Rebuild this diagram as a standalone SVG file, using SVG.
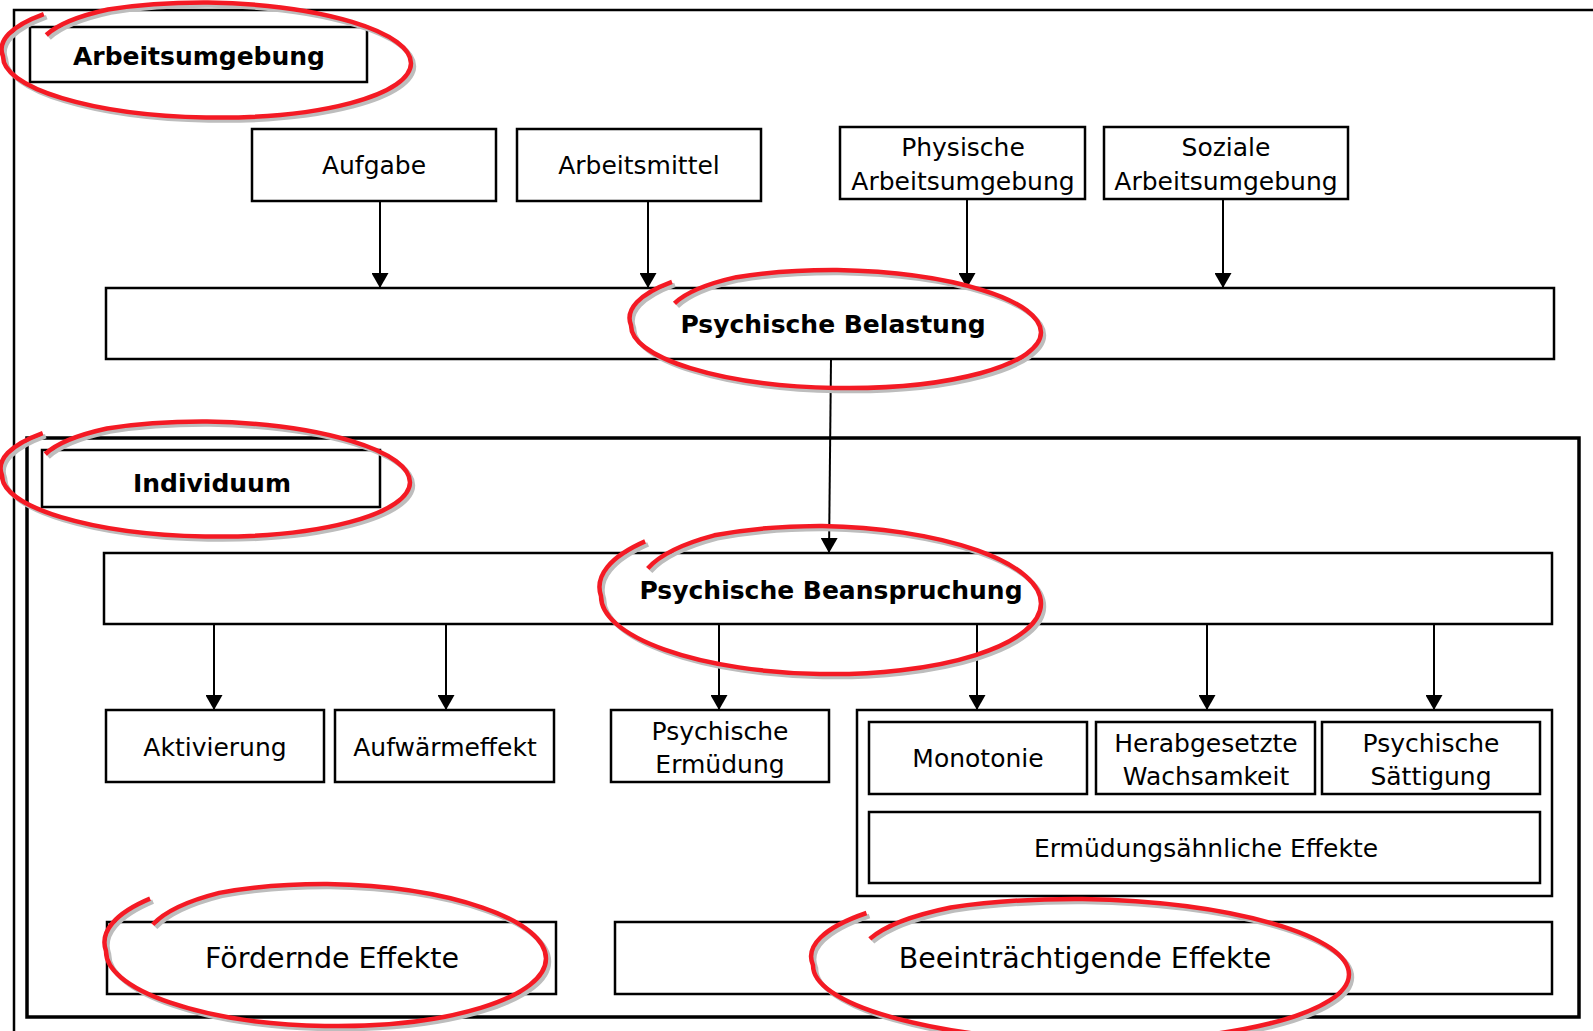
<svg xmlns="http://www.w3.org/2000/svg" xmlns:xlink="http://www.w3.org/1999/xlink" width="1593" height="1031" viewBox="0 0 1593 1031">
<style>
.box{fill:#fff;stroke:#000;stroke-width:2.5}
.frame{fill:none;stroke:#000}
.t{font-family:"DejaVu Sans","Liberation Sans",sans-serif;font-size:25px;text-anchor:middle;fill:#000}
.b{font-weight:bold}
.big{font-size:28.5px}
.conn line{stroke:#000;stroke-width:2;marker-end:url(#ah)}
.shadow{fill:none;stroke:#bdbdbd;stroke-width:4.5}
.red{fill:none;stroke:#f41a24;stroke-width:4.5}
</style>
<defs>
<marker id="ah" markerUnits="userSpaceOnUse" viewBox="0 0 15 17" markerWidth="15" markerHeight="17" refX="15" refY="8.5" orient="auto">
<path d="M0,0 L15,8.5 L0,17 z" fill="#000"/>
</marker>
<path id="ring" vector-effect="non-scaling-stroke" d="M -0.79 -0.386 A 0.95 0.95 0 0 1 -0.49 -0.849 A 1 1 0 0 1 0 -1 A 1 1 0 0 1 1 0 A 1 1 0 0 1 0 1 A 1 1 0 0 1 -1 0 A 1.05 1.05 0 0 1 -0.804 -0.75"/>
</defs>
<rect width="1593" height="1031" fill="#fff"/>

<g id="frame-arbeitsumgebung">
<path class="frame" stroke-width="2.5" d="M14,1031 V10 H1593"/>
</g>
<g id="frame-individuum">
<rect class="frame" stroke-width="3.5" x="27" y="438" width="1552" height="579"/>
</g>

<g id="connectors" class="conn">
<line x1="380" y1="201" x2="380" y2="288"/>
<line x1="648" y1="201" x2="648" y2="288"/>
<line x1="967" y1="199" x2="967" y2="288"/>
<line x1="1223" y1="199" x2="1223" y2="288"/>
<line x1="831" y1="359" x2="829" y2="553"/>
<line x1="214" y1="624" x2="214" y2="710"/>
<line x1="446" y1="624" x2="446" y2="710"/>
<line x1="719" y1="624" x2="719" y2="710"/>
<line x1="977" y1="624" x2="977" y2="710"/>
<line x1="1207" y1="624" x2="1207" y2="710"/>
<line x1="1434" y1="624" x2="1434" y2="710"/>
</g>

<g id="label-arbeitsumgebung">
<rect class="box" stroke-width="3" x="30" y="27" width="337" height="55"/>
<text class="t b" x="199" y="65">Arbeitsumgebung</text>
</g>
<g id="aufgabe">
<rect class="box" x="252" y="129" width="244" height="72"/>
<text class="t" x="374" y="174">Aufgabe</text>
</g>
<g id="arbeitsmittel">
<rect class="box" x="517" y="129" width="244" height="72"/>
<text class="t" x="639" y="174">Arbeitsmittel</text>
</g>
<g id="physische-arbeitsumgebung">
<rect class="box" x="840" y="127" width="245" height="72"/>
<text class="t" x="963" y="156">Physische</text>
<text class="t" x="963" y="190">Arbeitsumgebung</text>
</g>
<g id="soziale-arbeitsumgebung">
<rect class="box" x="1104" y="127" width="244" height="72"/>
<text class="t" x="1226" y="156">Soziale</text>
<text class="t" x="1226" y="190">Arbeitsumgebung</text>
</g>
<g id="psychische-belastung">
<rect class="box" x="106" y="288" width="1448" height="71"/>
<text class="t b" x="833" y="333">Psychische Belastung</text>
</g>
<g id="label-individuum">
<rect class="box" stroke-width="3" x="42" y="450" width="338" height="57"/>
<text class="t b" x="212" y="492">Individuum</text>
</g>
<g id="psychische-beanspruchung">
<rect class="box" x="104" y="553" width="1448" height="71"/>
<text class="t b" x="831" y="599">Psychische Beanspruchung</text>
</g>
<g id="aktivierung">
<rect class="box" x="106" y="710" width="218" height="72"/>
<text class="t" x="215" y="756">Aktivierung</text>
</g>
<g id="aufwaermeffekt">
<rect class="box" x="335" y="710" width="219" height="72"/>
<text class="t" x="445" y="756">Aufwärmeffekt</text>
</g>
<g id="psychische-ermuedung">
<rect class="box" x="611" y="710" width="218" height="72"/>
<text class="t" x="720" y="740">Psychische</text>
<text class="t" x="720" y="773">Ermüdung</text>
</g>
<g id="ermuedungsaehnliche-gruppe">
<rect class="box" x="857" y="710" width="695" height="186"/>
</g>
<g id="monotonie">
<rect class="box" stroke-width="3" x="869" y="722" width="218" height="72"/>
<text class="t" x="978" y="767">Monotonie</text>
</g>
<g id="herabgesetzte-wachsamkeit">
<rect class="box" stroke-width="3" x="1096" y="722" width="219" height="72"/>
<text class="t" x="1206" y="752">Herabgesetzte</text>
<text class="t" x="1206" y="785">Wachsamkeit</text>
</g>
<g id="psychische-saettigung">
<rect class="box" stroke-width="3" x="1322" y="722" width="218" height="72"/>
<text class="t" x="1431" y="752">Psychische</text>
<text class="t" x="1431" y="785">Sättigung</text>
</g>
<g id="ermuedungsaehnliche-effekte">
<rect class="box" stroke-width="3" x="869" y="812" width="671" height="71"/>
<text class="t" x="1206" y="857">Ermüdungsähnliche Effekte</text>
</g>
<g id="foerdernde-effekte">
<rect class="box" stroke-width="2" x="107" y="922" width="449" height="72"/>
<text class="t big" x="332" y="968">Fördernde Effekte</text>
</g>
<g id="beeintraechtigende-effekte">
<rect class="box" stroke-width="2" x="615" y="922" width="937" height="72"/>
<text class="t big" x="1085" y="968">Beeinträchtigende Effekte</text>
</g>

<g id="highlights">
<use xlink:href="#ring" class="shadow" transform="translate(210,63) rotate(1) scale(204,57.5)"/>
<use xlink:href="#ring" class="red" transform="translate(207,60) rotate(1) scale(204,57.5)"/>
<use xlink:href="#ring" class="shadow" transform="translate(209,482) rotate(1) scale(204,57.5)"/>
<use xlink:href="#ring" class="red" transform="translate(206,479) rotate(1) scale(204,57.5)"/>
<use xlink:href="#ring" class="shadow" transform="translate(839,332) rotate(1) scale(205,59)"/>
<use xlink:href="#ring" class="red" transform="translate(836,329) rotate(1) scale(205,59)"/>
<use xlink:href="#ring" class="shadow" transform="translate(824,603) rotate(1) scale(220,74)"/>
<use xlink:href="#ring" class="red" transform="translate(821,600) rotate(1) scale(220,74)"/>
<use xlink:href="#ring" class="shadow" transform="translate(329,958) rotate(1) scale(220,71)"/>
<use xlink:href="#ring" class="red" transform="translate(326,955) rotate(1) scale(220,71)"/>
<use xlink:href="#ring" class="shadow" transform="translate(1084,973) rotate(1) scale(268,71)"/>
<use xlink:href="#ring" class="red" transform="translate(1081,970) rotate(1) scale(268,71)"/>
</g>
</svg>
